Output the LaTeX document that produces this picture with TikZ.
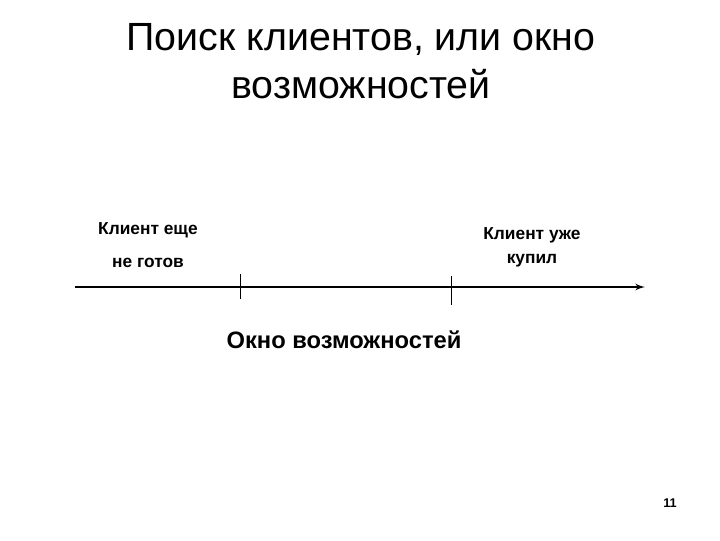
\documentclass[tikz,border=0pt]{standalone}
\usepackage{fontspec}
\setmainfont{Liberation Sans}
\usetikzlibrary{arrows}
\tikzstyle{heading}=[align=center, inner sep=0pt, anchor=north,
  font=\fontsize{29.5}{36}\selectfont]
\tikzstyle{stage}=[align=center, inner sep=0pt, anchor=north,
  font=\fontsize{13}{18}\selectfont\bfseries]
\tikzstyle{window}=[inner sep=0pt, anchor=base,
  font=\fontsize{17.8}{20}\selectfont\bfseries]
\tikzstyle{pagenum}=[inner sep=0pt, anchor=base,
  font=\fontsize{9.5}{12}\selectfont\bfseries]
\tikzstyle{axis}=[draw, line width=1.5pt, -latex']
\tikzstyle{notch}=[draw, line width=0.75pt]

\begin{document}
\begin{tikzpicture}[x=0.75pt,y=-0.75pt]
  \useasboundingbox[fill=white] (0,0) rectangle (720,540);

  % Title
  \node (TITLE) [heading] at (361,23) {Поиск клиентов, или окно\\возможностей};

  % Time axis and the two notches
  \coordinate (AXISSTART) at (75,287);
  \coordinate (AXISEND) at (645,287);
  \coordinate (OPENTOP) at (240,274);
  \coordinate (OPENBOT) at (240,299);
  \coordinate (CLOSETOP) at (451,276);
  \coordinate (CLOSEBOT) at (451,305);
  \path [axis] (AXISSTART) -- (AXISEND);
  \path [notch] (OPENTOP) -- (OPENBOT);
  \path [notch] (CLOSETOP) -- (CLOSEBOT);

  % Labels
  \node (NOTREADY) [stage] at (148,222) {Клиент еще\\[7pt]не готов};
  \node (BOUGHT) [stage] at (532,227) {Клиент уже\\купил};
  \node (WINDOW) [window] at (344,348) {Окно возможностей};
  \node (PAGE) [pagenum] at (670,507) {11};
\end{tikzpicture}
\end{document}
